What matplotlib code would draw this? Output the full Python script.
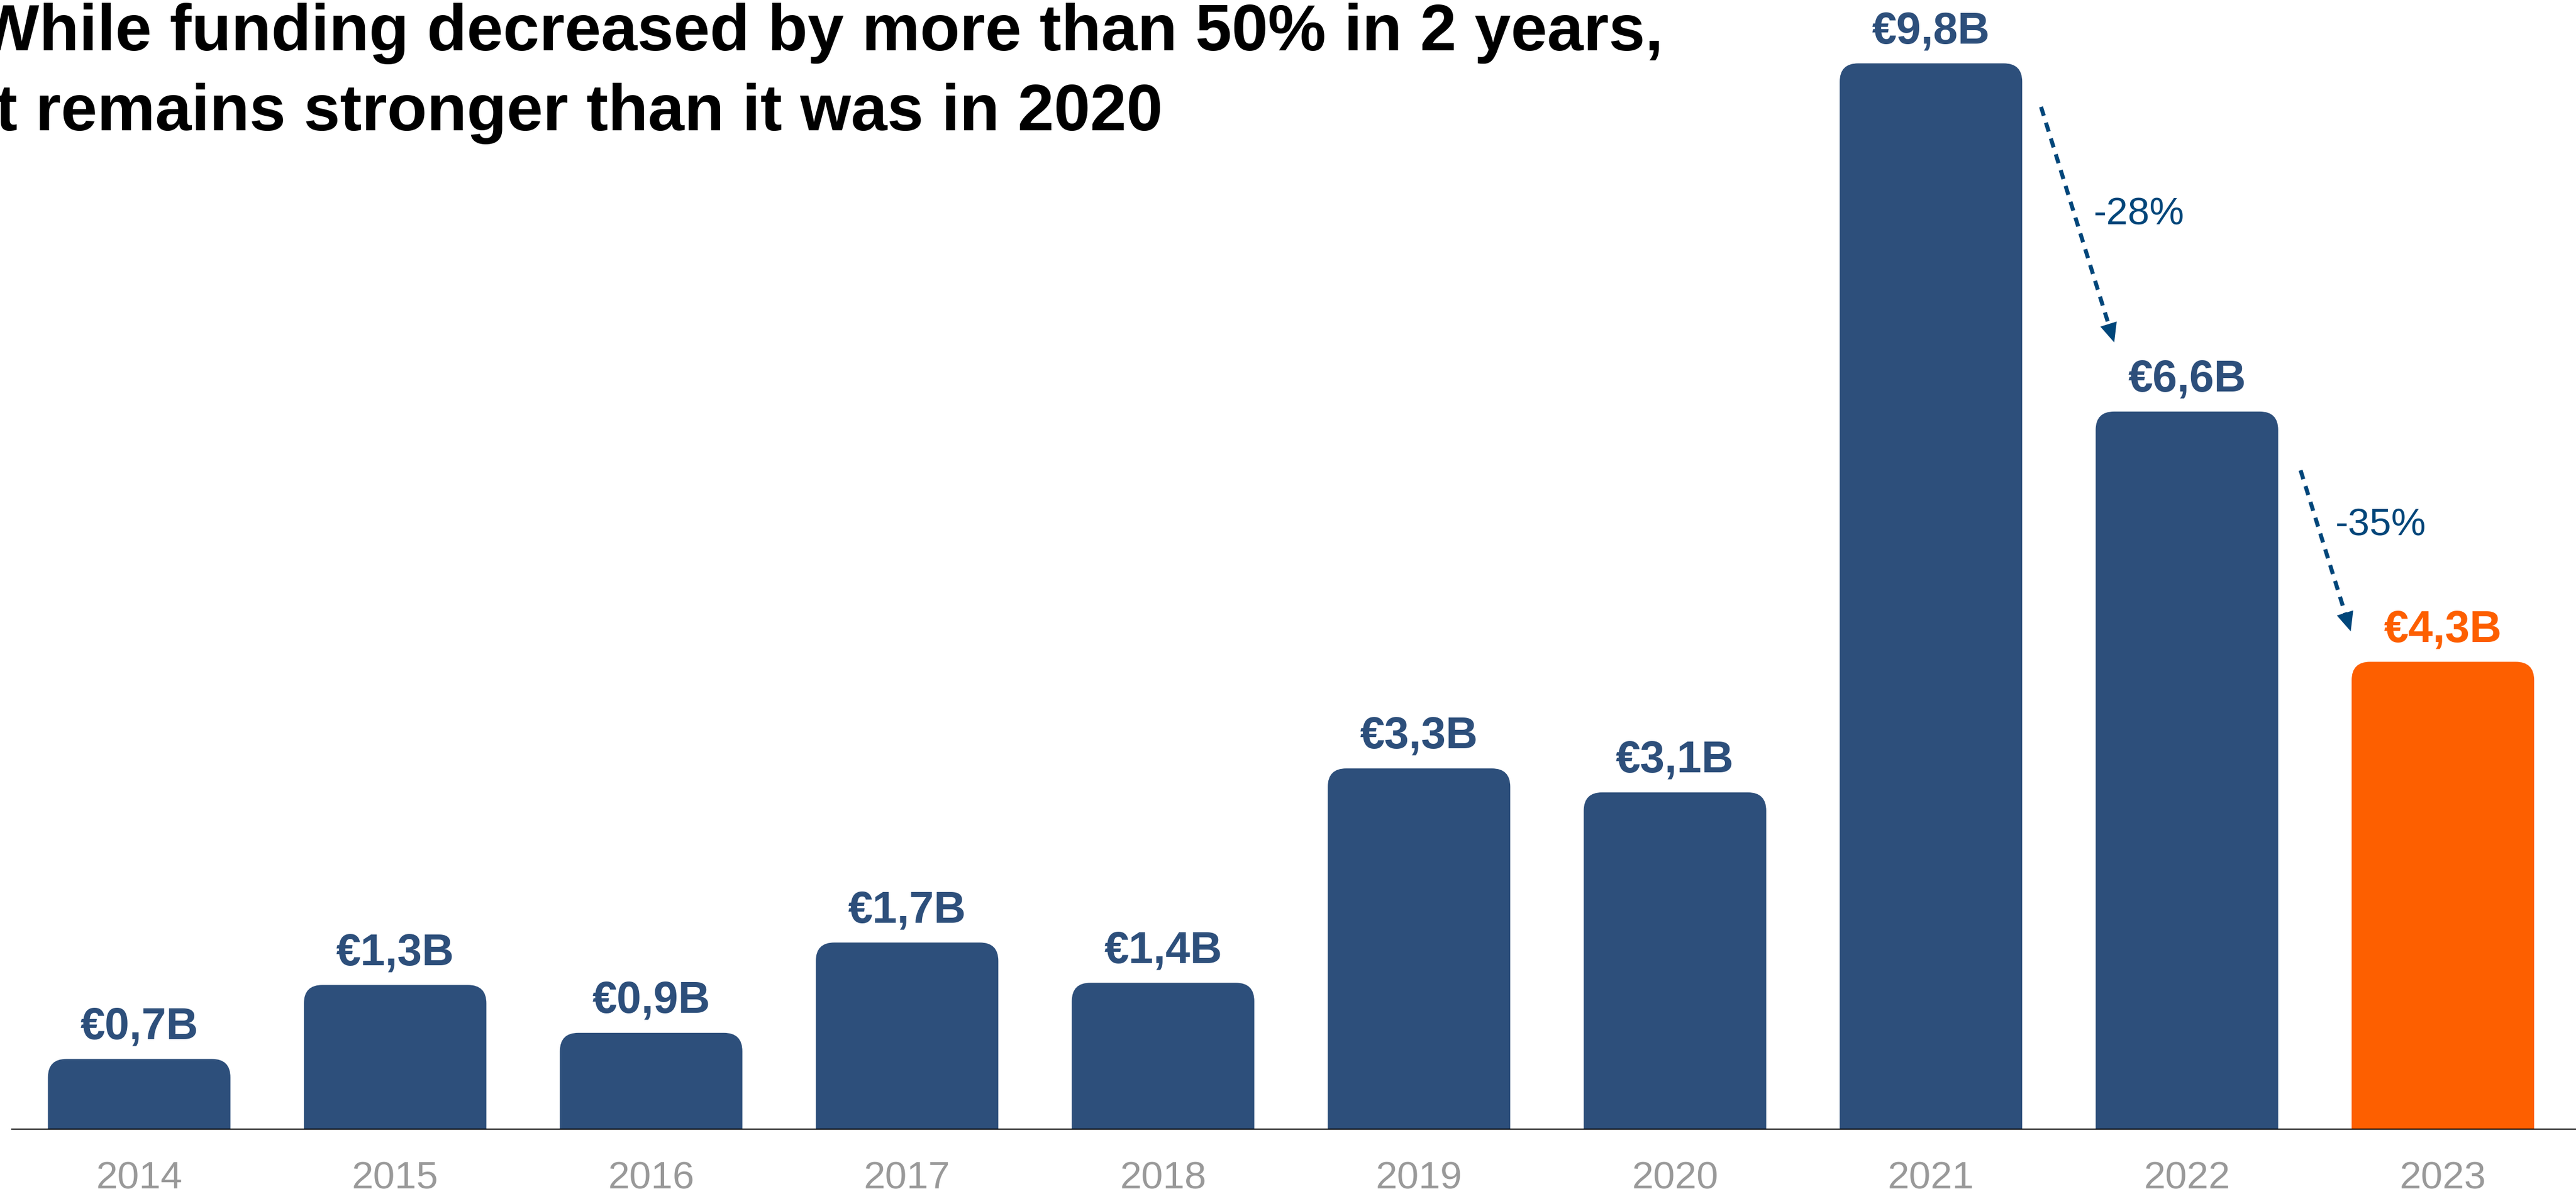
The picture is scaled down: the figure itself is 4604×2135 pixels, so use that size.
import matplotlib.pyplot as plt
from matplotlib.patches import FancyBboxPatch

plt.rcParams['font.family'] = ['Liberation Sans', 'DejaVu Sans']

years = ['2014', '2015', '2016', '2017', '2018', '2019', '2020', '2021', '2022', '2023']
funding = [0.65, 1.33, 0.89, 1.72, 1.35, 3.32, 3.1, 9.8, 6.6, 4.3]
labels = ['€0,7B', '€1,3B', '€0,9B', '€1,7B', '€1,4B', '€3,3B', '€3,1B', '€9,8B', '€6,6B', '€4,3B']
changes = ['-28%', '-35%']

title1 = 'While funding decreased by more than 50% in 2 years,'
title2 = 'it remains stronger than it was in 2020'

blue = '#2D4F7B'
orange = '#FD5F00'
arrow_col = '#00467A'
colors = [blue] * 9 + [orange]

W, H = 4604, 2135
fig = plt.figure(figsize=(W / 100, H / 100), dpi=100)
ax = fig.add_axes([20 / W, 115 / H, 1 - 20 / W, 2004 / H])

x = list(range(len(years)))
bars = ax.bar(x, funding, width=0.713, color=colors)

# rounded tops (the bottom rounding is hidden below the axis)
for b, c in zip(bars, colors):
    p = FancyBboxPatch((b.get_x(), -0.5), b.get_width(), b.get_height() + 0.5,
                       boxstyle='round,pad=0,rounding_size=0.072',
                       mutation_aspect=2.35, fc=c, ec='none', zorder=2)
    ax.add_patch(p)
    b.remove()

for xi, v, lab, c in zip(x, funding, labels, colors):
    ax.annotate(lab, (xi, v), xytext=(0, 26), textcoords='offset points',
                ha='center', va='baseline', fontsize=57, fontweight='bold', color=c)

ax.axhline(0, color='black', lw=3, zorder=3)

# arrows 2021 -> 2022 -> 2023
starts = [(7.43, 9.40), (8.444, 6.06)]
ends = [(7.716, 7.235), (8.64, 4.58)]
text_pos = [(7.635, 8.41), (8.58, 5.555)]
for s, e, t, ch in zip(starts, ends, text_pos, changes):
    # dashed shaft, stopping at the base of the head
    bx = s[0] + (e[0] - s[0]) * 0.92
    by = s[1] + (e[1] - s[1]) * 0.92
    ax.plot([s[0], bx], [s[1], by], color=arrow_col, lw=5.2,
            dashes=(2.3, 1.8), solid_capstyle='butt', dash_capstyle='butt')
    # solid head
    hx = s[0] + (e[0] - s[0]) * 0.85
    hy = s[1] + (e[1] - s[1]) * 0.85
    ax.annotate('', xy=e, xytext=(hx, hy),
                arrowprops=dict(arrowstyle='-|>,head_length=0.45,head_width=0.2',
                                mutation_scale=55, color=arrow_col, lw=0.01,
                                shrinkA=0, shrinkB=0))
    ax.text(t[0], t[1], ch, ha='left', va='center', fontsize=50, color=arrow_col)

ax.set_xlim(-0.5, 9.52)
ax.set_ylim(0, 10.3)
ax.set_xticks(x)
ax.set_xticklabels(years, fontsize=50, color='#999999')
ax.tick_params(axis='x', length=0, pad=40)
ax.set_yticks([])
for s in ax.spines.values():
    s.set_visible(False)

fig.text(-0.0087, 1 - 90 / H, title1, fontsize=84, fontweight='bold', color='black', va='baseline')
fig.text(-0.0087, 1 - 233 / H, title2, fontsize=84, fontweight='bold', color='black', va='baseline')

fig.savefig('out.png', dpi=100, facecolor='white')
